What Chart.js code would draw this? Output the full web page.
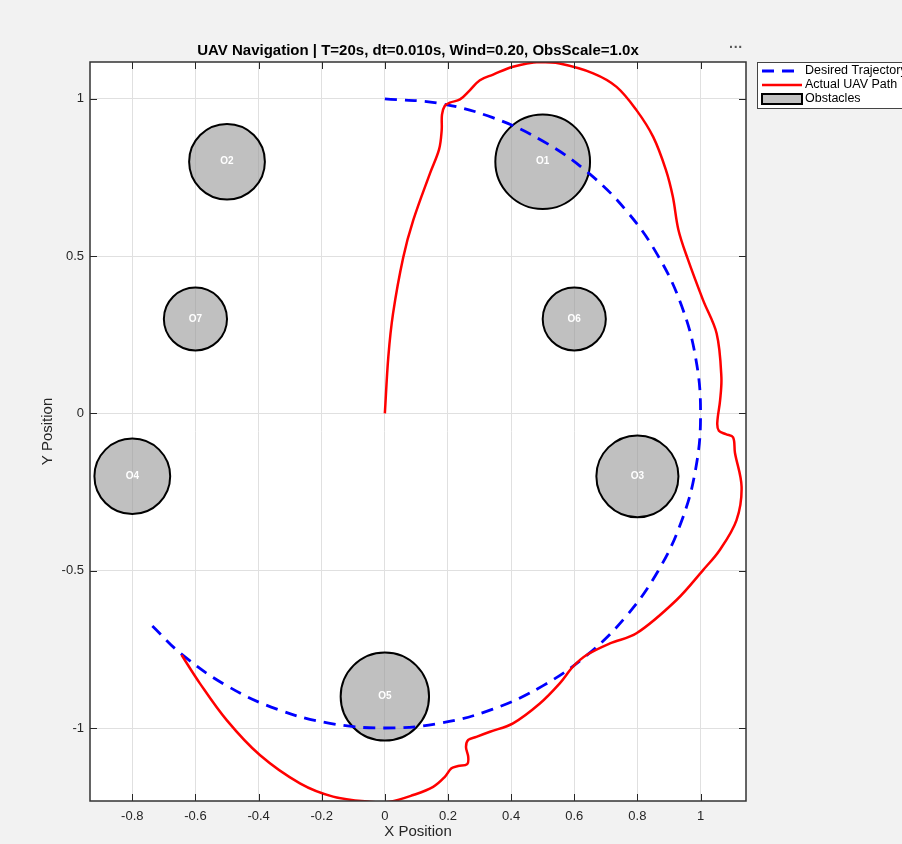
<!DOCTYPE html>
<html><head><meta charset="utf-8">
<script src="https://cdn.jsdelivr.net/npm/chart.js@4"></script>
<style>html,body{margin:0;padding:0;background:#f2f2f2;overflow:hidden;}canvas{display:block;}</style>
</head><body>
<canvas id="c" width="902" height="844"></canvas>
<script>
const titleText = 'UAV Navigation | T=20s, dt=0.010s, Wind=0.20, ObsScale=1.0x';
const xAxisTitle = 'X Position';
const yAxisTitle = 'Y Position';
const legendLabels = ['Desired Trajectory', 'Actual UAV Path', 'Obstacles'];

const xTicks = [-0.8, -0.6, -0.4, -0.2, 0, 0.2, 0.4, 0.6, 0.8, 1];
const xTickLabels = ['-0.8', '-0.6', '-0.4', '-0.2', '0', '0.2', '0.4', '0.6', '0.8', '1'];
const yTicks = [-1, -0.5, 0, 0.5, 1];
const yTickLabels = ['-1', '-0.5', '0', '0.5', '1'];

// Desired trajectory (dashed blue)
const desiredX = [0, 0.174, 0.342, 0.5, 0.643, 0.766, 0.866, 0.94, 0.985, 1, 0.985, 0.94, 0.866, 0.766, 0.643, 0.5, 0.342, 0.174, 0, -0.174, -0.342, -0.5, -0.643, -0.738];
const desiredY = [1, 0.985, 0.94, 0.866, 0.766, 0.643, 0.5, 0.342, 0.174, 0, -0.174, -0.342, -0.5, -0.643, -0.766, -0.866, -0.94, -0.985, -1, -0.985, -0.94, -0.866, -0.766, -0.674];

// Actual UAV path (solid red)
const pathX = [0, 0.011, 0.026, 0.058, 0.09, 0.143, 0.172, 0.18, 0.181, 0.19, 0.206, 0.238, 0.269, 0.301, 0.343, 0.406, 0.491, 0.554, 0.66, 0.734, 0.797, 0.85, 0.89, 0.912, 0.93, 0.958, 1.008, 1.051, 1.066, 1.062, 1.053, 1.058, 1.08, 1.103, 1.109, 1.13, 1.114, 1.061, 1.008, 0.924, 0.797, 0.713, 0.639, 0.596, 0.554, 0.491, 0.406, 0.333, 0.29, 0.264, 0.257, 0.264, 0.261, 0.232, 0.211, 0.19, 0.153, 0.09, 0.016, -0.048, -0.164, -0.269, -0.396, -0.501, -0.586, -0.644];
const pathY = [0, 0.18, 0.318, 0.495, 0.614, 0.763, 0.84, 0.9, 0.95, 0.978, 0.988, 0.998, 1.027, 1.059, 1.077, 1.102, 1.117, 1.112, 1.081, 1.038, 0.964, 0.879, 0.775, 0.69, 0.583, 0.495, 0.36, 0.254, 0.116, 0.042, -0.03, -0.055, -0.066, -0.076, -0.125, -0.233, -0.339, -0.434, -0.498, -0.593, -0.699, -0.731, -0.768, -0.805, -0.858, -0.922, -0.985, -1.012, -1.028, -1.038, -1.06, -1.091, -1.115, -1.121, -1.128, -1.155, -1.187, -1.213, -1.234, -1.234, -1.218, -1.176, -1.086, -0.975, -0.858, -0.768];

// Obstacles
const obsX = [0.5, -0.5, 0.8, -0.8, 0, 0.6, -0.6];
const obsY = [0.8, 0.8, -0.2, -0.2, -0.9, 0.3, 0.3];
const obsR = [0.15, 0.12, 0.13, 0.12, 0.14, 0.1, 0.1];
const obsLabels = ['O1', 'O2', 'O3', 'O4', 'O5', 'O6', 'O7'];

const FONT = "'Liberation Sans', Arial, Helvetica, sans-serif";
const OBS_FILL = 'rgba(150,150,150,0.6)';

const deco = {
  id: 'deco',
  beforeDraw(chart) {
    const {ctx, chartArea: a} = chart;
    ctx.save();
    ctx.fillStyle = '#f2f2f2';
    ctx.fillRect(0, 0, chart.width, chart.height);
    ctx.fillStyle = '#ffffff';
    ctx.fillRect(a.left, a.top, a.right - a.left, a.bottom - a.top);
    ctx.restore();
  },
  beforeDatasetsDraw(chart) {
    const {ctx, chartArea: a} = chart;
    const xs = chart.scales.x, ys = chart.scales.y;
    ctx.save();
    ctx.beginPath();
    ctx.rect(a.left, a.top, a.right - a.left, a.bottom - a.top);
    ctx.clip();
    obsX.forEach((ox, i) => {
      const cx = xs.getPixelForValue(ox);
      const cy = ys.getPixelForValue(obsY[i]);
      const rx = Math.abs(xs.getPixelForValue(ox + obsR[i]) - cx);
      const ry = Math.abs(ys.getPixelForValue(obsY[i] + obsR[i]) - cy);
      ctx.beginPath();
      ctx.ellipse(cx, cy, rx, ry, 0, 0, Math.PI * 2);
      ctx.fillStyle = OBS_FILL;
      ctx.fill();
      ctx.lineWidth = 2;
      ctx.strokeStyle = '#000000';
      ctx.stroke();
    });
    ctx.restore();
  },
  afterDatasetsDraw(chart) {
    const {ctx} = chart;
    const xs = chart.scales.x, ys = chart.scales.y;
    ctx.save();
    ctx.fillStyle = '#ffffff';
    ctx.font = 'bold 10px ' + FONT;
    ctx.textAlign = 'center';
    ctx.textBaseline = 'middle';
    obsLabels.forEach((t, i) => {
      ctx.fillText(t, xs.getPixelForValue(obsX[i]), ys.getPixelForValue(obsY[i]));
    });
    ctx.restore();
  },
  afterDraw(chart) {
    const {ctx, chartArea: a} = chart;
    const xs = chart.scales.x, ys = chart.scales.y;
    ctx.save();
    // inward ticks
    ctx.strokeStyle = '#262626';
    ctx.lineWidth = 1;
    ctx.beginPath();
    xTicks.forEach(v => {
      const p = Math.round(xs.getPixelForValue(v)) + 0.5;
      ctx.moveTo(p, a.bottom); ctx.lineTo(p, a.bottom - 7);
      ctx.moveTo(p, a.top); ctx.lineTo(p, a.top + 7);
    });
    yTicks.forEach(v => {
      const p = Math.round(ys.getPixelForValue(v)) + 0.5;
      ctx.moveTo(a.left, p); ctx.lineTo(a.left + 7, p);
      ctx.moveTo(a.right, p); ctx.lineTo(a.right - 7, p);
    });
    ctx.stroke();
    // axes box
    ctx.lineWidth = 1.5;
    ctx.strokeStyle = '#333333';
    ctx.strokeRect(a.left, a.top, a.right - a.left, a.bottom - a.top);

    // legend
    const lx = 757, ly = 62, lw = 160, lh = 46;
    ctx.fillStyle = '#ffffff';
    ctx.fillRect(lx, ly, lw, lh);
    ctx.lineWidth = 1;
    ctx.strokeStyle = '#444444';
    ctx.strokeRect(lx + 0.5, ly + 0.5, lw, lh);
    const rows = [71, 85, 99];
    ctx.lineWidth = 2.8;
    ctx.strokeStyle = '#0000ff';
    ctx.setLineDash([12, 8]);
    ctx.beginPath(); ctx.moveTo(762, rows[0]); ctx.lineTo(802, rows[0]); ctx.stroke();
    ctx.setLineDash([]);
    ctx.lineWidth = 2.5;
    ctx.strokeStyle = '#ff0000';
    ctx.beginPath(); ctx.moveTo(762, rows[1]); ctx.lineTo(802, rows[1]); ctx.stroke();
    ctx.fillStyle = '#c2c2c2';
    ctx.fillRect(762, rows[2] - 5, 40, 10);
    ctx.lineWidth = 2;
    ctx.strokeStyle = '#000000';
    ctx.strokeRect(762, rows[2] - 5, 40, 10);
    ctx.fillStyle = '#000000';
    ctx.font = '12.5px ' + FONT;
    ctx.textAlign = 'left';
    ctx.textBaseline = 'middle';
    legendLabels.forEach((t, i) => ctx.fillText(t, 805, rows[i]));

    // toolbar dots
    ctx.fillStyle = '#555555';
    ctx.font = 'bold 14px ' + FONT;
    ctx.textAlign = 'center';
    ctx.fillText('\u00B7\u00B7\u00B7', 736, 48);
    ctx.restore();
  }
};

const toPts = (xa, ya) => xa.map((x, i) => ({x: x, y: ya[i]}));

new Chart(document.getElementById('c').getContext('2d'), {
  type: 'scatter',
  data: {
    datasets: [
      {
        label: legendLabels[1],
        data: toPts(pathX, pathY),
        showLine: true,
        borderColor: '#ff0000',
        backgroundColor: '#ff0000',
        borderWidth: 2.5,
        pointRadius: 0,
        tension: 0.35,
        fill: false,
        order: 0
      },
      {
        label: legendLabels[0],
        data: toPts(desiredX, desiredY),
        showLine: true,
        borderColor: '#0000ff',
        backgroundColor: '#0000ff',
        borderWidth: 2.8,
        borderDash: [12, 8],
        pointRadius: 0,
        tension: 0.4,
        fill: false,
        order: 1
      }
    ]
  },
  options: {
    responsive: false,
    animation: false,
    devicePixelRatio: 1,
    layout: {padding: {left: 0, right: 156, top: 0, bottom: 0}},
    plugins: {
      legend: {display: false},
      tooltip: {enabled: false},
      title: {
        display: true,
        text: titleText,
        fullSize: false,
        color: '#000000',
        font: {family: FONT, size: 15, weight: 'bold', lineHeight: 1.2},
        padding: {top: 41.5, bottom: 2.5}
      }
    },
    scales: {
      x: {
        type: 'linear',
        position: 'bottom',
        min: -0.934,
        max: 1.144,
        afterBuildTicks: (s) => { s.ticks = xTicks.map(v => ({value: v})); },
        afterFit: (s) => { s.height = 43; },
        grid: {color: '#e0e0e0', lineWidth: 1, drawTicks: false},
        border: {display: false},
        ticks: {
          color: '#262626', padding: 8, maxRotation: 0, autoSkip: false,
          font: {family: FONT, size: 13},
          callback: (v, i) => xTickLabels[i]
        },
        title: {
          display: true, text: xAxisTitle, color: '#262626',
          font: {family: FONT, size: 15, lineHeight: 1.2},
          padding: {top: 0, bottom: 3.6}
        }
      },
      y: {
        type: 'linear',
        position: 'left',
        min: -1.232,
        max: 1.117,
        afterBuildTicks: (s) => { s.ticks = yTicks.map(v => ({value: v})); },
        afterFit: (s) => { s.width = 90; },
        grid: {color: '#e0e0e0', lineWidth: 1, drawTicks: false},
        border: {display: false},
        ticks: {
          color: '#262626', padding: 6, autoSkip: false,
          font: {family: FONT, size: 13},
          callback: (v, i) => yTickLabels[i]
        },
        title: {
          display: true, text: yAxisTitle, color: '#262626',
          font: {family: FONT, size: 15, lineHeight: 1.2},
          padding: {top: 39, bottom: 0}
        }
      }
    }
  },
  plugins: [deco]
});
</script>
</body></html>
